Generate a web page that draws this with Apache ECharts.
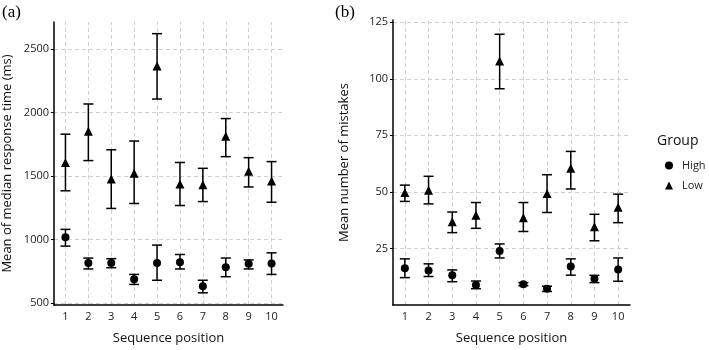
<!DOCTYPE html>
<html>
<head>
<meta charset="utf-8">
<script src="https://cdn.jsdelivr.net/npm/echarts@6/dist/echarts.min.js"></script>
<style>
  html, body { margin: 0; padding: 0; background: #fff; }
  #chart { width: 709px; height: 350px; }
</style>
</head>
<body>
<div id="chart"></div>
<script>
// sequence positions (x categories)
const positions = ['1', '2', '3', '4', '5', '6', '7', '8', '9', '10']

// (a) mean of median response time (ms)
const rtHighMean = [1018, 815, 815, 688, 815, 822, 632, 782, 810, 812]
const rtHighLo   = [949, 769, 779, 647, 680, 769, 581, 708, 769, 726]
const rtHighHi   = [1081, 855, 850, 726, 957, 883, 680, 855, 840, 896]
const rtLowMean  = [1608, 1854, 1477, 1523, 2369, 1438, 1432, 1815, 1538, 1462]
const rtLowLo    = [1385, 1623, 1246, 1285, 2108, 1269, 1300, 1654, 1415, 1295]
const rtLowHi    = [1831, 2069, 1708, 1777, 2623, 1608, 1562, 1954, 1646, 1615]

// (b) mean number of mistakes
const errHighMean = [16.2, 15.2, 13.1, 8.8, 23.9, 9.2, 7.2, 17.0, 11.6, 15.7]
const errHighLo   = [12.1, 12.6, 10.3, 7.2, 20.8, 8.5, 6.0, 13.2, 9.9, 10.5]
const errHighHi   = [20.4, 18.2, 15.5, 10.6, 27.0, 9.9, 8.3, 20.4, 13.1, 20.8]
const errLowMean  = [49.7, 50.7, 36.8, 39.7, 107.9, 38.6, 49.3, 60.5, 34.6, 43.2]
const errLowLo    = [45.8, 44.7, 32.0, 33.9, 95.6, 32.5, 40.9, 51.3, 28.4, 36.4]
const errLowHi    = [53.0, 56.9, 41.1, 45.3, 119.7, 45.3, 57.6, 67.9, 40.1, 49.0]

const groups = ['High', 'Low']

const font = 'Open Sans, Noto Sans, sans-serif'
const gridColor = '#cfcfcf'

const chart = echarts.init(document.getElementById('chart'))

// error bar with caps, drawn through the axis scales
const errorBarItem = (params, api) => {
  const x = api.value(0)
  const lo = api.coord([x, api.value(1)])
  const hi = api.coord([x, api.value(2)])
  const half = 5
  const style = { stroke: '#000', lineWidth: 1.5 }
  return {
    type: 'group',
    children: [
      { type: 'line', shape: { x1: hi[0], y1: hi[1], x2: lo[0], y2: lo[1] }, style },
      { type: 'line', shape: { x1: hi[0] - half, y1: hi[1], x2: hi[0] + half, y2: hi[1] }, style },
      { type: 'line', shape: { x1: lo[0] - half, y1: lo[1], x2: lo[0] + half, y2: lo[1] }, style }
    ]
  }
}

const barData = (lo, hi) => lo.map((v, i) => [i, v, hi[i]])

const xAxisBase = (gridIndex) => ({
  type: 'category',
  gridIndex,
  data: positions,
  boundaryGap: true,
  name: 'Sequence position',
  nameLocation: 'middle',
  nameGap: 27,
  nameTextStyle: { fontFamily: font, fontSize: 13, color: '#111' },
  axisLine: { lineStyle: { color: '#000', width: 1.5 } },
  axisTick: { alignWithLabel: true, length: 3, lineStyle: { color: '#000' } },
  axisLabel: { fontFamily: font, fontSize: 11, color: '#222', margin: 6 },
  splitLine: { show: false }
})

const yAxisBase = (gridIndex, name, nameGap, extra) => Object.assign({
  type: 'value',
  gridIndex,
  name,
  nameLocation: 'middle',
  nameGap,
  nameTextStyle: { fontFamily: font, fontSize: 13, color: '#111' },
  axisLine: { show: true, lineStyle: { color: '#000', width: 1.5 } },
  axisTick: { show: true, length: 3, lineStyle: { color: '#000' } },
  axisLabel: {
    fontFamily: font, fontSize: 11, color: '#222', margin: 5,
    showMinLabel: false, showMaxLabel: false,
    formatter: v => String(v)
  },
  splitLine: { show: true, showMinLine: false, showMaxLine: false, lineStyle: { color: gridColor, type: [4, 3] } }
}, extra)

// vertical dashed grid lines at each position
const vLines = {
  silent: true,
  z: 0,
  symbol: 'none',
  label: { show: false },
  emphasis: { disabled: true },
  lineStyle: { color: gridColor, type: [4, 3], width: 1 },
  data: positions.map(p => ({ xAxis: p }))
}

const option = {
  animation: false,
  backgroundColor: '#fff',
  grid: [
    { left: 52, top: 22, width: 231, bottom: 37 },
    { left: 393, top: 20, width: 237, bottom: 37 }
  ],
  xAxis: [xAxisBase(0), xAxisBase(1)],
  yAxis: [
    yAxisBase(0, 'Mean of median response time (ms)', 40, { min: 485, max: 2715 }),
    yAxisBase(1, 'Mean number of mistakes', 42, { min: 0, max: 126, interval: 25 })
  ],
  legend: {
    orient: 'vertical',
    left: 665,
    top: 160,
    padding: 0,
    itemWidth: 8,
    itemHeight: 8,
    itemGap: 9,
    textStyle: { fontFamily: font, fontSize: 11, color: '#222', padding: [0, 0, 0, 4] },
    data: [
      { name: 'High', icon: 'circle' },
      { name: 'Low', icon: 'triangle' }
    ]
  },
  graphic: [
    { type: 'text', left: 2, top: 4, style: { text: '(a)', font: '17px Liberation Serif', fill: '#000' } },
    { type: 'text', left: 335, top: 4, style: { text: '(b)', font: '17px Liberation Serif', fill: '#000' } },
    { type: 'text', left: 657, top: 134, style: { text: 'Group', font: '14px ' + font, fill: '#111' } }
  ],
  series: [
    { type: 'line', xAxisIndex: 0, yAxisIndex: 0, data: [], markLine: vLines, silent: true, z: 0 },
    { type: 'line', xAxisIndex: 1, yAxisIndex: 1, data: [], markLine: vLines, silent: true, z: 0 },
    { type: 'custom', xAxisIndex: 0, yAxisIndex: 0, renderItem: errorBarItem, data: barData(rtHighLo, rtHighHi), z: 3 },
    { type: 'custom', xAxisIndex: 0, yAxisIndex: 0, renderItem: errorBarItem, data: barData(rtLowLo, rtLowHi), z: 3 },
    { type: 'custom', xAxisIndex: 1, yAxisIndex: 1, renderItem: errorBarItem, data: barData(errHighLo, errHighHi), z: 3 },
    { type: 'custom', xAxisIndex: 1, yAxisIndex: 1, renderItem: errorBarItem, data: barData(errLowLo, errLowHi), z: 3 },
    {
      name: groups[0], type: 'scatter', xAxisIndex: 0, yAxisIndex: 0, data: rtHighMean,
      symbol: 'circle', symbolSize: 8, itemStyle: { color: '#000', opacity: 1 }, z: 4
    },
    {
      name: groups[1], type: 'scatter', xAxisIndex: 0, yAxisIndex: 0, data: rtLowMean,
      symbol: 'triangle', symbolSize: 9, itemStyle: { color: '#000', opacity: 1 }, z: 4
    },
    {
      name: groups[0], type: 'scatter', xAxisIndex: 1, yAxisIndex: 1, data: errHighMean,
      symbol: 'circle', symbolSize: 8, itemStyle: { color: '#000', opacity: 1 }, z: 4
    },
    {
      name: groups[1], type: 'scatter', xAxisIndex: 1, yAxisIndex: 1, data: errLowMean,
      symbol: 'triangle', symbolSize: 9, itemStyle: { color: '#000', opacity: 1 }, z: 4
    }
  ]
}

chart.setOption(option)
</script>
</body>
</html>
